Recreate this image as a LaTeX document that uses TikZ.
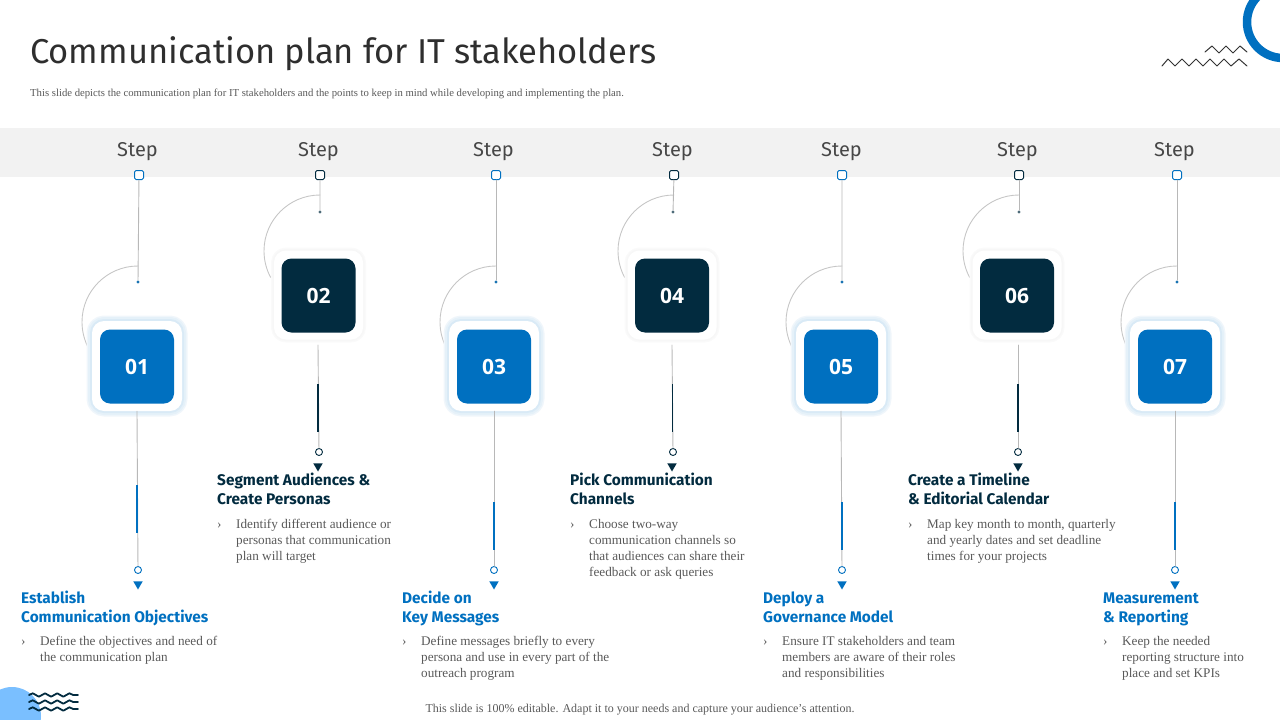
\documentclass[tikz,border=0pt]{standalone}
\usepackage{fontspec}
\setmainfont{Liberation Serif}
\newfontfamily\headfont{Fira Sans}
\newfontfamily\numfont{Open Sans}
\usetikzlibrary{decorations.pathmorphing,shapes.geometric}
\definecolor{stepblue}{HTML}{0070C0}
\definecolor{stepnavy}{HTML}{022B3F}
\definecolor{linegray}{HTML}{B8B8B8}
\definecolor{bodygray}{HTML}{595959}
\definecolor{bandgray}{HTML}{F2F2F2}
\definecolor{cornerblue}{HTML}{7ABFFF}
\tikzset{
	steplabel/.style={text=black!72,font=\headfont\fontsize{20}{20}\selectfont},
	thinline/.style={draw=linegray,line width=.9pt},
	pinblue/.style={draw=stepblue,fill=white,rounded corners=1.5pt,minimum size=9pt,inner sep=0pt,line width=1pt},
	pinnavy/.style={pinblue,draw=stepnavy},
	dotblue/.style={circle,fill=stepblue!80!gray,minimum size=3.4pt,inner sep=0pt},
	dotnavy/.style={dotblue,fill=stepnavy!70},
	ringblue/.style={circle,draw=stepblue,fill=white,minimum size=7pt,inner sep=0pt,line width=.9pt},
	ringnavy/.style={ringblue,draw=stepnavy},
	tipblue/.style={regular polygon,regular polygon sides=3,shape border rotate=180,fill=stepblue,minimum size=11pt,inner sep=0pt},
	tipnavy/.style={tipblue,fill=stepnavy},
	framebox/.style={fill=white,rounded corners=12pt,minimum size=90pt,inner sep=0pt},
	frameblue/.style={framebox,preaction={draw=stepblue!6,line width=11pt},preaction={draw=stepblue!10,line width=8pt},preaction={draw=stepblue!15,line width=4pt}},
	framenavy/.style={framebox,minimum size=89pt,preaction={draw=black!2,line width=6pt},preaction={draw=black!3,line width=3pt}},
	numblue/.style={fill=stepblue,text=white,rounded corners=10pt,minimum size=74pt,inner sep=0pt,font=\numfont\bfseries\fontsize{21}{21}\selectfont},
	numnavy/.style={numblue,fill=stepnavy},
	headblue/.style={anchor=north west,inner sep=0pt,align=left,text=stepblue,font=\headfont\bfseries\fontsize{15.4}{19}\selectfont},
	headnavy/.style={headblue,text=stepnavy},
	bodytext/.style={anchor=north west,inner sep=0pt,align=left,text=bodygray,font=\fontsize{13.2}{16}\selectfont},
	bulletmark/.style={bodytext,text height=9pt},
}
\begin{document}
\begin{tikzpicture}[x=1pt,y=-1pt,line cap=round,line join=round]
	\useasboundingbox (0,0) rectangle (1280,720);
	% corners
	\draw[stepblue,line width=8.5pt] (1283,22) circle(36pt);
	\draw[black!80,line width=1pt] (1205,52)--(1212,46)--(1219,53)--(1226,46)--(1233,53)--(1240,46)--(1247,52);
	\draw[black!80,line width=1pt] (1162,66)--(1168,59)--(1175,66)--(1182,59)--(1189,66)--(1196,59)--(1203,66)--(1210,59)--(1217,66)--(1224,59)--(1231,66)--(1239,59)--(1247,66);
	\fill[cornerblue] (12,716) circle(29pt);
	\draw[stepnavy,line width=1.8pt,decorate,decoration={snake,segment length=12.2pt,amplitude=1.7pt}] (29,695)--(78,695);
	\draw[stepnavy,line width=1.8pt,decorate,decoration={snake,segment length=12.2pt,amplitude=1.7pt}] (29,702)--(78,702);
	\draw[stepnavy,line width=1.8pt,decorate,decoration={snake,segment length=12.2pt,amplitude=1.7pt}] (29,709)--(78,709);
	% header
	\node[anchor=west,inner sep=0pt,text=black!82] (title) at (30,54) {\headfont\fontsize{34.5}{35}\selectfont Communication plan for IT stakeholders};
	\node[anchor=west,inner sep=0pt,text=bodygray] (subtitle) at (30,94) {\fontsize{10.7}{12}\selectfont This slide depicts the communication plan for IT stakeholders and the points to keep in mind while developing and implementing the plan.};
	\fill[bandgray] (0,128) rectangle (1280,177);
	\node[anchor=center,inner sep=0pt,text=bodygray] (footer) at (640,710) {\fontsize{12}{14}\selectfont This slide is 100\% editable. Adapt it to your needs and capture your audience's attention.};
	% step 1
	\node[steplabel] (label1) at (137.5,152) {Step};
	\draw[thinline,draw=linegray!80] (138,266) arc[start angle=90,end angle=208,radius=56pt];
	\node[frameblue] (frame1) at (137,366) {};
	\node[numblue] (box1) at (137,366.5) {01};
	\node[pinblue] (pin1) at (139,175) {};
	\node[dotblue] (dot1) at (138,282) {};
	\node[ringblue] (ring1) at (138,570) {};
	\node[tipblue] (tip1) at (138,584) {};
	\draw[thinline] (pin1)--(dot1) (frame1.south)--(ring1);
	\draw[stepblue,line width=2.4pt,line cap=butt] (137,485)--(137,533);
	\node[headblue] (head1) at (21,591) {Establish\\Communication Objectives};
	\node[bulletmark] (bullet1) at (21,636) {›};
	\node[bodytext] (text1) at (40,636) {Define the objectives and need of\\the communication plan};
	% step 2
	\node[steplabel] (label2) at (318.5,152) {Step};
	\draw[thinline,draw=linegray!80] (320,195) arc[start angle=90,end angle=208,radius=56pt];
	\node[framenavy] (frame2) at (318.5,295) {};
	\node[numnavy] (box2) at (318.5,295.5) {02};
	\node[pinnavy] (pin2) at (320,175) {};
	\node[dotnavy] (dot2) at (320,212) {};
	\node[ringnavy] (ring2) at (319,452) {};
	\node[tipnavy] (tip2) at (318,466) {};
	\draw[thinline] (pin2)--(dot2) (318,345)--(ring2);
	\draw[stepnavy,line width=2.4pt,line cap=butt] (318,384)--(318,432);
	\node[headnavy] (head2) at (217,473) {Segment Audiences \&\\Create Personas};
	\node[bulletmark] (bullet2) at (217,519) {›};
	\node[bodytext] (text2) at (236,519) {Identify different audience or\\personas that communication\\plan will target};
	% step 3
	\node[steplabel] (label3) at (493.5,152) {Step};
	\draw[thinline,draw=linegray!80] (496,266) arc[start angle=90,end angle=208,radius=56pt];
	\node[frameblue] (frame3) at (494,366) {};
	\node[numblue] (box3) at (494,366.5) {03};
	\node[pinblue] (pin3) at (496,175) {};
	\node[dotblue] (dot3) at (496,282) {};
	\node[ringblue] (ring3) at (494,570) {};
	\node[tipblue] (tip3) at (494,584) {};
	\draw[thinline] (pin3)--(dot3) (frame3.south)--(ring3);
	\draw[stepblue,line width=1.6pt,line cap=butt] (494,502)--(494,550);
	\node[headblue] (head3) at (402,591) {Decide on\\Key Messages};
	\node[bulletmark] (bullet3) at (402,636) {›};
	\node[bodytext] (text3) at (421,636) {Define messages briefly to every\\persona and use in every part of the\\outreach program};
	% step 4
	\node[steplabel] (label4) at (672.5,152) {Step};
	\draw[thinline,draw=linegray!80] (674,195) arc[start angle=90,end angle=208,radius=56pt];
	\node[framenavy] (frame4) at (672,295) {};
	\node[numnavy] (box4) at (672,295.5) {04};
	\node[pinnavy] (pin4) at (674,175) {};
	\node[dotnavy] (dot4) at (673,212) {};
	\node[ringnavy] (ring4) at (673,452) {};
	\node[tipnavy] (tip4) at (672,466) {};
	\draw[thinline] (pin4)--(dot4) (672,345)--(ring4);
	\draw[stepnavy,line width=1.6pt,line cap=butt] (672.5,384)--(672.5,432);
	\node[headnavy] (head4) at (570,473) {Pick Communication\\Channels};
	\node[bulletmark] (bullet4) at (570,519) {›};
	\node[bodytext] (text4) at (589,519) {Choose two-way\\communication channels so\\that audiences can share their\\feedback or ask queries};
	% step 5
	\node[steplabel] (label5) at (841.5,152) {Step};
	\draw[thinline,draw=linegray!80] (842,266) arc[start angle=90,end angle=208,radius=56pt];
	\node[frameblue] (frame5) at (841,366) {};
	\node[numblue] (box5) at (841,366.5) {05};
	\node[pinblue] (pin5) at (842,175) {};
	\node[dotblue] (dot5) at (842,282) {};
	\node[ringblue] (ring5) at (842,570) {};
	\node[tipblue] (tip5) at (842,584) {};
	\draw[thinline] (pin5)--(dot5) (frame5.south)--(ring5);
	\draw[stepblue,line width=2.4pt,line cap=butt] (842,502)--(842,550);
	\node[headblue] (head5) at (763,591.5) {Deploy a\\Governance Model};
	\node[bulletmark] (bullet5) at (763,636) {›};
	\node[bodytext] (text5) at (782,636) {Ensure IT stakeholders and team\\members are aware of their roles\\and responsibilities};
	% step 6
	\node[steplabel] (label6) at (1017.5,152) {Step};
	\draw[thinline,draw=linegray!80] (1019,195) arc[start angle=90,end angle=208,radius=56pt];
	\node[framenavy] (frame6) at (1017,295) {};
	\node[numnavy] (box6) at (1017,295.5) {06};
	\node[pinnavy] (pin6) at (1019,175) {};
	\node[dotnavy] (dot6) at (1019,212) {};
	\node[ringnavy] (ring6) at (1018,452) {};
	\node[tipnavy] (tip6) at (1018,466) {};
	\draw[thinline] (pin6)--(dot6) (1018,345)--(ring6);
	\draw[stepnavy,line width=2.4pt,line cap=butt] (1018,384)--(1018,432);
	\node[headnavy] (head6) at (908,473) {Create a Timeline\\\& Editorial Calendar};
	\node[bulletmark] (bullet6) at (908,519) {›};
	\node[bodytext] (text6) at (927,519) {Map key month to month, quarterly\\and yearly dates and set deadline\\times for your projects};
	% step 7
	\node[steplabel] (label7) at (1174.5,152) {Step};
	\draw[thinline,draw=linegray!80] (1177,266) arc[start angle=90,end angle=208,radius=56pt];
	\node[frameblue] (frame7) at (1175,366) {};
	\node[numblue] (box7) at (1175,366.5) {07};
	\node[pinblue] (pin7) at (1177,175) {};
	\node[dotblue] (dot7) at (1177,282) {};
	\node[ringblue] (ring7) at (1175,570) {};
	\node[tipblue] (tip7) at (1175,584) {};
	\draw[thinline] (pin7)--(dot7) (frame7.south)--(ring7);
	\draw[stepblue,line width=2.4pt,line cap=butt] (1175,502)--(1175,550);
	\node[headblue] (head7) at (1103,592.5) {Measurement\\\& Reporting};
	\node[bulletmark] (bullet7) at (1103,636) {›};
	\node[bodytext] (text7) at (1122,636) {Keep the needed\\reporting structure into\\place and set KPIs};
\end{tikzpicture}
\end{document}
